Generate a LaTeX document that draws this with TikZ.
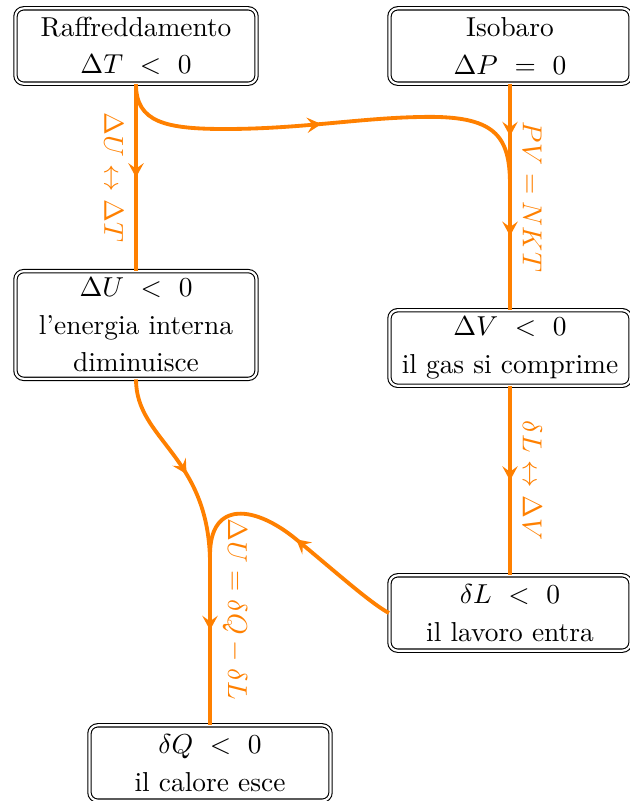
\documentclass[tikz,border=0pt]{standalone}
\usepackage{amsmath,amssymb}
\usepackage{xcolor}
\usepackage{tikz}
\usetikzlibrary{positioning,arrows.meta,decorations.markings,calc}
\definecolor{floworange}{RGB}{255,128,0}
\tikzset{
  state/.style  = {draw, double, double distance=0.8pt, line width=0.4pt, rounded corners=3pt, align=center, minimum width=88pt, minimum height=27.5pt, inner sep=2.5pt, font=\linespread{1.14}\selectfont},
  link/.style   = {line width=1.4pt, draw=floworange},
  tip at/.style = {postaction={decorate, decoration={markings, mark=at position #1 with {\arrow{Stealth[length=5.2pt,width=5.6pt,inset=2pt]}}}}},
  rel/.style    = {text=floworange, rotate=-90, inner sep=4pt},
}

\begin{document}
\begin{tikzpicture}[x=0.365pt, y=-0.365pt]
  \useasboundingbox (0,0) rectangle (630,801);
  \node[state] (raff) at (136,46)  {Raffreddamento\\$\Delta T\ <\ 0$};
  \node[state] (iso)  at (510,46)  {Isobaro\\$\Delta P\ =\ 0$};
  \node[state] (du)   at (136,325) {$\Delta U\ <\ 0$\\l'energia interna\\diminuisce};
  \node[state] (dv)   at (510,348) {$\Delta V\ <\ 0$\\il gas si comprime};
  \node[state] (dl)   at (510,613) {$\delta L\ <\ 0$\\il lavoro entra};
  \node[state] (dq)   at (210,763) {$\delta Q\ <\ 0$\\il calore esce};

  \draw[link, tip at=0.5] (raff) -- node[rel, below] {$\Delta U \leftrightarrow \Delta T$} (du);
  \draw[link, tip at=0.23] (iso) -- node[rel, above] {$PV = NKT$} (dv);
  \draw[link, tip at=0.5] (dv) -- node[rel, above] {$\delta L \leftrightarrow \Delta V$} (dl);
  % the curved ones join the vertical lines
  \draw[link, tip at=0.37, tip at=0.87] (raff.south) .. controls (136,122) and (165,129) .. (225,129)
    .. controls (300,129) and (360,118) .. (420,117) .. controls (495,115) and (510,135) .. (510,185) -- (dv.north);
  \draw[link, tip at=0.3, tip at=0.74] (du.south) .. controls (136,440) and (208,455) .. (210,560)
    -- node[rel, above, pos=0.3] {$\Delta U = \delta Q - \delta L$} (dq.north);
  \draw[link, tip at=0.29] (dl.west) .. controls (370,603) and (330,567) .. (297,540)
    .. controls (255,505) and (210,500) .. (210,555) -- (dq.north);
\end{tikzpicture}
\end{document}
